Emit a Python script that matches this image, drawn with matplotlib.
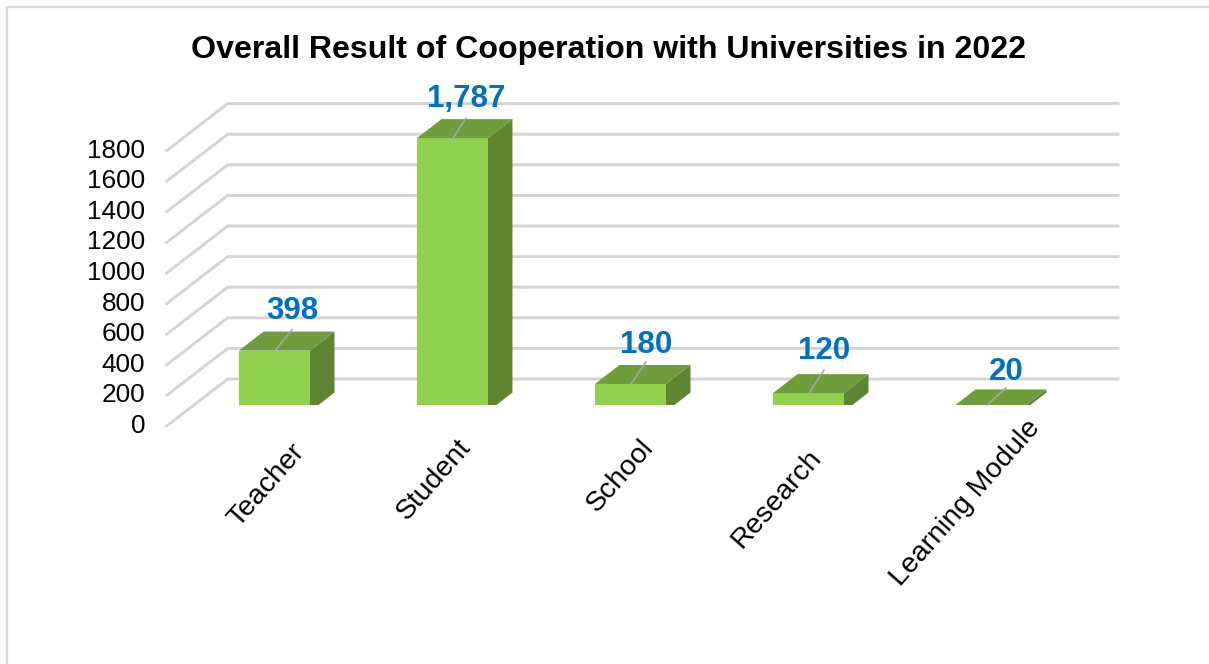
#!/usr/bin/env python
# coding=utf-8
"""
Grafico de barras con aspecto 3D (cooperacion con universidades 2022)
"""
import matplotlib
matplotlib.use('Agg')
import matplotlib.pyplot as plt
from matplotlib.patches import Polygon, Rectangle
from matplotlib.transforms import ScaledTranslation

plt.rcParams['font.family'] = ['Liberation Sans', 'DejaVu Sans']

categorias = ['Teacher', 'Student', 'School', 'Research', 'Learning Module']
valores = [398, 1787, 180, 120, 20]
etiquetas = ['398', '1,787', '180', '120', '20']
ticks_y = [0, 200, 400, 600, 800, 1000, 1200, 1400, 1600, 1800]

# tamaño de la figura en pixeles
W, H = 1209, 664
# escalas: pixeles por categoria y por unidad de valor
px_x = 178.0
px_y = 0.153
# eje: borde izquierdo/derecho e inferior en pixeles
izq, der, abajo = 166.7, 1118.0, 426.0
x_cero = 274.5


def dx(px):
    return px / px_x


def dv(px):
    return px / px_y


def mover(lab, ox, oy):
    # desplaza un texto en pixeles
    lab.set_transform(lab.get_transform() + ScaledTranslation(ox / 100.0, oy / 100.0, fig.dpi_scale_trans))


fig = plt.figure(figsize=(W / 100.0, H / 100.0), dpi=100, facecolor='white')
ax = fig.add_axes([izq / W, (H - abajo) / H, (der - izq) / W, 2000 * px_y / H])
ax.set_xlim((izq - x_cero) / px_x, (der - x_cero) / px_x)
ax.set_ylim(0, 2000)
ax.patch.set_visible(False)
for s in ax.spines.values():
    s.set_visible(False)

# marco de la imagen
fig.add_artist(Rectangle((7 / W, -0.1), 1.2, 1.1 - 7.5 / H, transform=fig.transFigure,
                         fill=False, edgecolor='#DADADA', linewidth=1.6))

# grilla: pared lateral y pared de fondo
x0 = ax.get_xlim()[0]
x1 = ax.get_xlim()[1]
for v in ticks_y:
    ax.plot([x0, x0 + dx(61), x1], [v, v + dv(47), v + dv(47)], color='#D4D4D4', lw=2.1,
            solid_joinstyle='miter', clip_on=False, zorder=1)

# barras
ancho = dx(71)
prof_x = dx(24.5)
prof_v = dv(19)
piso = dv(14.5)
corte = dv(21)

for i, v in enumerate(valores):
    iz = i - ancho / 2.0
    de = i + ancho / 2.0
    tope = v + piso
    clip = Rectangle((i - 1, corte), 2, 3000, transform=ax.transData)

    barra = ax.bar(i, v, width=ancho, bottom=piso, color='#92D050', linewidth=0, zorder=3)
    barra[0].set_clip_path(clip)
    lado = Polygon([(de, piso), (de + prof_x, piso + prof_v), (de + prof_x, tope + prof_v), (de, tope)],
                   closed=True, facecolor='#5F8532', edgecolor='none', zorder=3)
    techo = Polygon([(iz, tope), (iz + prof_x, tope + prof_v), (de + prof_x, tope + prof_v), (de, tope)],
                    closed=True, facecolor='#6F9C3C', edgecolor='none', zorder=3)
    ax.add_patch(lado)
    ax.add_patch(techo)
    lado.set_clip_path(clip)
    techo.set_clip_path(clip)

# etiquetas de datos con su linea guia (desplazamiento en pixeles)
guia_dx = [17, 13, 15, 15, 19]
guia_dy = [21, 20, 22, 23, 17]
texto_dy = [40, 39, 39, 42, 33]
for i, v in enumerate(valores):
    tope = max(v + piso, corte)
    ax.annotate('', xy=(i + dx(0.5), tope), xytext=(i + dx(0.5 + guia_dx[i]), tope + dv(guia_dy[i])),
                arrowprops=dict(arrowstyle='-', color='#A6A6A6', lw=1.2, shrinkA=0, shrinkB=0),
                zorder=4)
    ax.annotate(etiquetas[i], xy=(i + dx(0.5 + guia_dx[i]), tope), xytext=(0, texto_dy[i]),
                textcoords='offset pixels', ha='center', va='center', color='#0070C0',
                fontsize=22.5, fontweight='bold', zorder=5)

ax.set_yticks(ticks_y)
ax.set_yticklabels([str(t) for t in ticks_y], fontsize=18.8, color='black')
ax.tick_params(axis='y', length=0, pad=15.5)
for lab in ax.get_yticklabels():
    mover(lab, 0, 2.5)

# categorias rotadas, con ajuste individual en pixeles
ax.set_xticks(range(len(categorias)))
ax.set_xticklabels(categorias, fontsize=20.4, rotation=48.5, ha='right', rotation_mode='anchor')
ax.tick_params(axis='x', length=0, pad=6)
ajuste_x = [16, 4, 9, -1, 40]
ajuste_y = [-5, 0, 0, -10, 19]
for lab, ox, oy in zip(ax.get_xticklabels(), ajuste_x, ajuste_y):
    mover(lab, ox, oy)

fig.text(608.5 / W, 1 - 50 / H, 'Overall Result of Cooperation with Universities in 2022',
         ha='center', va='center', fontsize=23.1, fontweight='bold', color='black')

fig.savefig('out.png', dpi=100, facecolor='white')
